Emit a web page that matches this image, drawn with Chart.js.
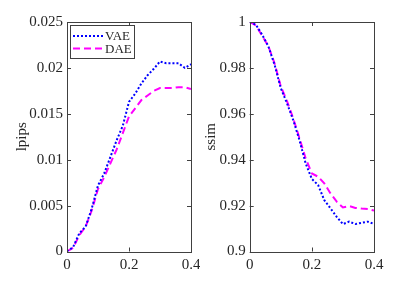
<!DOCTYPE html>
<html>
<head>
<meta charset="utf-8">
<script src="https://cdn.jsdelivr.net/npm/chart.js@4"></script>
<style>
  body { margin: 0; background: #fff; }
  #wrap { position: relative; width: 415px; height: 283px; }
  .box { position: absolute; top: 0; height: 283px; }
</style>
</head>
<body>
<div id="wrap">
  <div class="box" style="left:0;width:200px"><canvas id="c1"></canvas></div>
  <div class="box" style="left:200px;width:215px"><canvas id="c2"></canvas></div>
</div>
<script>
// noise level
const xs = [0, 0.02, 0.04, 0.06, 0.08, 0.1, 0.12, 0.14, 0.16, 0.18, 0.2,
            0.22, 0.24, 0.26, 0.28, 0.3, 0.32, 0.34, 0.36, 0.38, 0.4];

const lpipsVAE = [0, 0.0005, 0.002, 0.0027, 0.0047, 0.0072, 0.0085, 0.0103, 0.0121, 0.0137, 0.0163,
                  0.0172, 0.0183, 0.0192, 0.0199, 0.0207, 0.0205, 0.0205, 0.0205, 0.0200, 0.0204];
const lpipsDAE = [0, 0.0004, 0.0018, 0.0027, 0.0045, 0.0068, 0.0081, 0.0096, 0.0111, 0.0129, 0.0147,
                  0.0156, 0.0165, 0.0170, 0.0175, 0.0178, 0.0178, 0.0178, 0.0179, 0.0179, 0.0177];

const ssimVAE = [1.0, 0.9988, 0.9945, 0.9894, 0.9814, 0.9712, 0.9646, 0.9573, 0.9486, 0.9384, 0.9316,
                 0.929, 0.9224, 0.9188, 0.9151, 0.9119, 0.913, 0.912, 0.9125, 0.913, 0.912];
const ssimDAE = [1.0, 0.9985, 0.994, 0.9895, 0.982, 0.972, 0.9655, 0.958, 0.9495, 0.9406, 0.934,
                 0.9326, 0.9297, 0.9253, 0.9217, 0.9192, 0.9198, 0.919, 0.9187, 0.9185, 0.9178];

const seriesNames = ['VAE', 'DAE'];
const lpipsTicks = [0, 0.005, 0.01, 0.015, 0.02, 0.025];
const ssimTicks = [0.9, 0.92, 0.94, 0.96, 0.98, 1];
const xTicks = [0, 0.2, 0.4];

const FONT = 'Liberation Serif';
const TXT = '#262626';
const AX = '#404040';

function pts(ys) {
    return xs.map((x, i) => ({ x: x, y: ys[i] }));
}
function fmt(v) { return String(+v.toFixed(4)); }

// matlab-like box with inward ticks on all sides
const boxPlugin = {
    id: 'box',
    afterDraw(chart) {
        const { ctx, chartArea: a, scales } = chart;
        ctx.save();
        ctx.strokeStyle = AX;
        ctx.lineWidth = 1;
        ctx.strokeRect(Math.round(a.left) + 0.5, Math.round(a.top) + 0.5,
                       Math.round(a.right - a.left), Math.round(a.bottom - a.top));
        const L = 4;
        ctx.beginPath();
        scales.x.ticks.forEach(t => {
            const px = Math.round(scales.x.getPixelForValue(t.value)) + 0.5;
            ctx.moveTo(px, a.bottom); ctx.lineTo(px, a.bottom - L);
            ctx.moveTo(px, a.top); ctx.lineTo(px, a.top + L);
        });
        scales.y.ticks.forEach(t => {
            const py = Math.round(scales.y.getPixelForValue(t.value)) + 0.5;
            ctx.moveTo(a.left, py); ctx.lineTo(a.left + L, py);
            ctx.moveTo(a.right, py); ctx.lineTo(a.right - L, py);
        });
        ctx.stroke();

        const lg = chart.options.plugins.boxLegend;
        if (lg && lg.show) {
            const x0 = Math.round(a.left) + 3, y0 = Math.round(a.top) + 3, w = 64, h = 33;
            ctx.fillStyle = '#fff';
            ctx.fillRect(x0, y0, w, h);
            ctx.strokeStyle = AX;
            ctx.strokeRect(x0 + 0.5, y0 + 0.5, w, h);
            ctx.font = '13px "' + FONT + '"';
            ctx.textBaseline = 'middle';
            chart.data.datasets.forEach((ds, i) => {
                const yy = y0 + 11 + i * 12.5;
                ctx.strokeStyle = ds.borderColor;
                ctx.lineWidth = ds.borderWidth;
                ctx.setLineDash(ds.borderDash);
                ctx.beginPath();
                ctx.moveTo(x0 + 3, yy); ctx.lineTo(x0 + 33, yy);
                ctx.stroke();
                ctx.setLineDash([]);
                ctx.fillStyle = TXT;
                ctx.fillText(ds.label, x0 + 35, yy + 1);
            });
        }
        ctx.restore();
    }
};

function makeChart(id, a, b, yTicks, yMin, yMax, title, yWidth, padRight, titlePad, legend) {
    return new Chart(document.getElementById(id), {
        type: 'line',
        data: {
            datasets: [
                { label: seriesNames[0], data: pts(a), borderColor: '#0000ff', borderWidth: 2,
                  borderDash: [2, 2], pointRadius: 0, fill: false, tension: 0 },
                { label: seriesNames[1], data: pts(b), borderColor: '#ff00ff', borderWidth: 2,
                  borderDash: [7, 4], pointRadius: 0, fill: false, tension: 0 }
            ]
        },
        options: {
            responsive: true,
            maintainAspectRatio: false,
            animation: false,
            layout: { padding: { top: 22, right: padRight, left: 0, bottom: 0 } },
            plugins: {
                legend: { display: false },
                tooltip: { enabled: false },
                boxLegend: { show: legend }
            },
            scales: {
                x: {
                    type: 'linear', min: 0, max: 0.4,
                    afterBuildTicks: s => { s.ticks = xTicks.map(v => ({ value: v })); },
                    afterFit: s => { s.height = 31.5; s.paddingLeft = 0; s.paddingRight = 0; },
                    grid: { display: false, drawTicks: false },
                    border: { display: false },
                    ticks: { color: TXT, font: { family: FONT, size: 15 }, padding: 5,
                             maxRotation: 0, callback: v => fmt(v) }
                },
                y: {
                    type: 'linear', min: yMin, max: yMax,
                    afterBuildTicks: s => { s.ticks = yTicks.map(v => ({ value: v })); },
                    afterFit: s => { s.width = yWidth; },
                    grid: { display: false, drawTicks: false },
                    border: { display: false },
                    title: { display: true, text: title, color: TXT,
                             font: { family: FONT, size: 15 }, padding: { top: titlePad, bottom: 0 } },
                    ticks: { color: TXT, font: { family: FONT, size: 15 }, padding: 4,
                             callback: v => fmt(v) }
                }
            }
        },
        plugins: [boxPlugin]
    });
}

makeChart('c1', lpipsVAE, lpipsDAE, lpipsTicks, 0, 0.025, 'lpips', 67, 9, 13, true);
makeChart('c2', ssimVAE, ssimDAE, ssimTicks, 0.9, 1, 'ssim', 49.7, 41, 2, false);
</script>
</body>
</html>
